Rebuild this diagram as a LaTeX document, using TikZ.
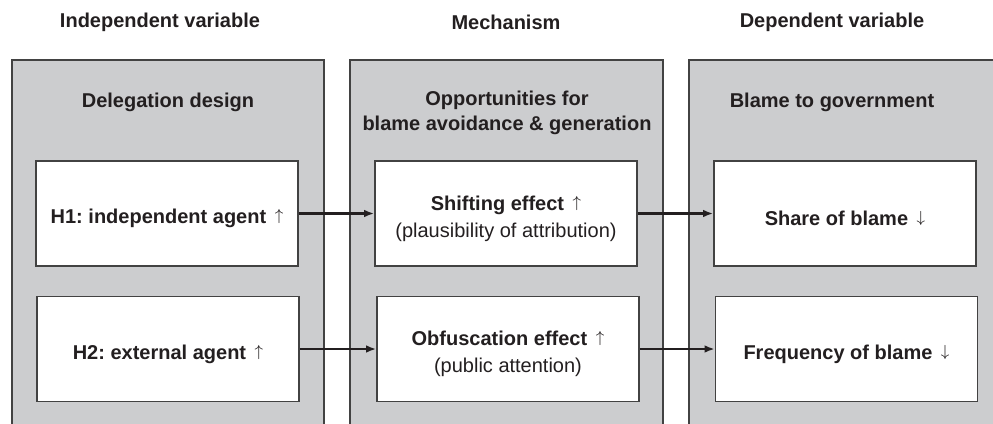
\documentclass[tikz,border=0pt]{standalone}
\usepackage{fontspec}
\setmainfont{Liberation Sans}
\usetikzlibrary{arrows.meta}
\definecolor{panelgray}{RGB}{204,205,207}
\definecolor{edgegray}{RGB}{66,66,66}
\definecolor{inkblack}{RGB}{35,31,32}
\newcommand{\up}{\hspace{1.5pt}\raisebox{1.4pt}{\fontsize{8.5}{10}\selectfont$\uparrow$}}
\newcommand{\down}{\hspace{1.5pt}\raisebox{1.4pt}{\fontsize{8.5}{10}\selectfont$\downarrow$}}

\begin{document}
\frenchspacing
\begin{tikzpicture}[x=0.5pt,y=-0.5pt,
    panel/.style={fill=panelgray,draw=edgegray,line width=0.8pt},
    hypbox/.style={draw=edgegray,fill=white,line width=0.8pt,minimum width=131pt,
      minimum height=52.5pt},
    boxtext/.style={align=center,text=inkblack,font=\bfseries,yshift=-2.5pt},
    heading/.style={font=\bfseries,text=inkblack,align=center},
    link/.style={-{Latex[length=5pt,width=3.8pt]},line width=1.3pt,draw=inkblack}]
  \clip (0,0) rectangle (993,424);
  % columns
  \draw[panel] (12,440) -- (12,60) -- (324,60) -- (324,440);
  \draw[panel] (350,440) -- (350,60) -- (663,60) -- (663,440);
  \draw[panel] (689,440) -- (689,60) -- (1010,60) -- (1010,440);
  % headings
  \node[heading] (ivhead) at (160,22) {Independent variable};
  \node[heading] (mechhead) at (506,22) {Mechanism};
  \node[heading] (dvhead) at (832,22) {Dependent variable};
  \node[heading] (ivtitle) at (168,102) {Delegation design};
  \node[heading] (mechtitle) at (507,113) {Opportunities for\\[0.5pt]blame avoidance \& generation};
  \node[heading] (dvtitle) at (832,102) {Blame to government};
  % boxes
  \node[hypbox,label={[boxtext]center:H1: independent agent \up}] (hone) at (167,213.5) {};
  \node[hypbox,label={[boxtext]center:H2: external agent \up}] (htwo) at (168,349) {};
  \node[hypbox,label={[boxtext]center:Shifting effect \up\\[1.5pt]{\mdseries(plausibility of attribution)}}] (shift) at (506,213.5) {};
  \node[hypbox,label={[boxtext]center:Obfuscation effect \up\\[1.5pt]{\mdseries(public attention)}}] (obfus) at (508,349) {};
  \node[hypbox,label={[boxtext]center:Share of blame \down}] (share) at (845,213.5) {};
  \node[hypbox,label={[boxtext]center:Frequency of blame \down}] (freq) at (846.5,349) {};
  % links
  \draw[link] (hone) -- (shift);
  \draw[link] (htwo) -- (obfus);
  \draw[link] (shift) -- (share);
  \draw[link] (obfus) -- (freq);
\end{tikzpicture}
\end{document}
